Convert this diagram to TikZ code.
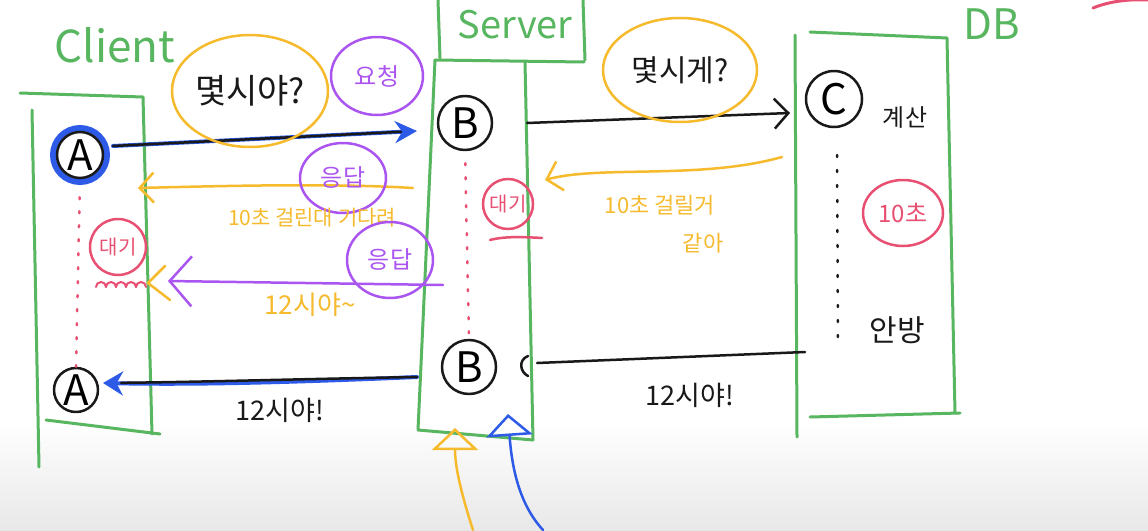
\documentclass[tikz,border=0pt]{standalone}
\usepackage{fontspec}
\setmainfont{Noto Sans CJK KR}
\usetikzlibrary{arrows.meta,shapes.geometric}
\definecolor{pengreen}{RGB}{88,182,96}
\definecolor{penblue}{RGB}{45,90,230}
\definecolor{penyellow}{RGB}{246,186,45}
\definecolor{penpurple}{RGB}{170,85,240}
\definecolor{penpink}{RGB}{232,80,115}
\definecolor{ink}{RGB}{25,25,25}
\begin{document}
\begin{tikzpicture}[line join=round, line cap=round, x=1pt, y=-1pt,
		frame/.style={draw=pengreen, line width=3pt},
		pen/.style={line width=2.5pt},
		txt/.style={inner sep=0pt, font=\fontsize{#1}{#1}\selectfont},
		ring/.style={circle, draw=ink, line width=2.5pt, inner sep=0pt, minimum size=#1, font=\fontsize{42}{42}\selectfont},
		bubble/.style={ellipse, draw=#1, line width=2.5pt, inner sep=0pt},
		chev/.style={-{Straight Barb[length=14pt, width=30pt]}}]
		\useasboundingbox (0,0) rectangle (1148,530);
		\fill[white] (0,0) rectangle (1148,530);
		\shade[top color=white, bottom color=black!9] (0,420) rectangle (1148,530);
		% boxes
		\draw[frame] (20,93) -- (143,97) -- (152,434);
		\draw[frame] (46,420) -- (160,434);
		\draw[frame] (32,110) -- (39,467);
		\draw[frame] (438,0) -- (440,58);
		\draw[frame] (583,0) -- (585,60);
		\draw[frame] (435,60) -- (584,62);
		\draw[frame] (435,60) -- (418,430) -- (533,440) -- (525,62);
		\draw[frame] (795,35) -- (797,437);
		\draw[frame] (810,32) -- (947,38) -- (955,413);
		\draw[frame] (810,417) -- (960,413);
		% titles
		\node[txt=44, text=pengreen] (client) at (115,45) {Client};
		\node[txt=38, text=pengreen] (server) at (515,25) {Server};
		\node[txt=42, text=pengreen] (db) at (992,24) {DB};
		\draw[penpink, line width=3pt] (1093,8) .. controls (1110,1) and (1130,-1) .. (1148,0);
		% lifelines
		\draw[penblue, line width=6pt] (80,155) circle [radius=27];
		\node[ring=46pt] (aTop) at (80,155) {A};
		\node[ring=44pt] (aBot) at (76,390) {A};
		\node[ring=54pt] (bTop) at (465,123) {B};
		\node[ring=54pt] (bBot) at (469,367) {B};
		\node[ring=56pt] (cTop) at (834,99) {C};
		\draw[penpink, pen, dash pattern=on 2pt off 12pt, shorten <=18pt] (aTop.south) -- (aBot.north);
		\draw[penpink, pen, dash pattern=on 2pt off 12pt, shorten <=12pt] (bTop.south) -- (bBot.north);
		\coordinate (dbDotTop) at (837,155);
		\coordinate (dbDotBot) at (838,340);
		\draw[ink, pen, dash pattern=on 2pt off 13pt] (dbDotTop) -- (dbDotBot);
		% waiting marks
		\node[circle, draw=penpink, pen, txt=20, text=penpink, minimum size=56pt] (waitA) at (118,247) {대기};
		\foreach \i in {0,...,4}
		\draw[penpink, line width=2pt] (96+\i*10,287) arc [start angle=180, end angle=360, radius=5];
		\node[circle, draw=penpink, pen, txt=20, text=penpink, minimum size=50pt] (waitB) at (508,204) {대기};
		\draw[penpink, pen] (490,240) .. controls (505,236) and (525,237) .. (542,238);
		% db
		\node[txt=24, text=ink] (calc) at (905,118) {계산};
		\node[ellipse, draw=penpink, pen, txt=24, text=penpink, minimum width=80pt, minimum height=66pt] (tenSec) at (903,213) {10초};
		\node[txt=30, text=ink] (done) at (897,330) {안방};
		% client -> server
		\coordinate (reqStart) at (113,146);
		\coordinate (reqEnd) at (417,131);
		\draw[penblue, line width=4pt, -{Stealth[length=22pt, width=22pt]}] (reqStart) -- (reqEnd);
		\draw[ink, line width=2.5pt, yshift=2pt, shorten >=16pt] (reqStart) -- (reqEnd);
		\node[bubble=penyellow, minimum width=156pt, minimum height=112pt, txt=34, text=ink] (qTime) at (250,91) {몇시야?};
		\node[bubble=penpurple, minimum width=92pt, minimum height=78pt, txt=24, text=penpurple] (req) at (377,76) {요청};
		% server -> client
		\coordinate (waitFrom) at (413,188);
		\coordinate (waitTo) at (138,188);
		\draw[penyellow, pen, chev] (waitFrom) .. controls (330,183) and (220,186) .. (waitTo);
		\node[bubble=penpurple, minimum width=86pt, minimum height=70pt, txt=24, text=penpurple] (resp1) at (343,178) {응답};
		\node[txt=21, text=penyellow] (waitMsg) at (312,218) {10초 걸린대 기다려};
		\coordinate (tellFrom) at (443,285);
		\coordinate (tellTo) at (168,281);
		\draw[penpurple, pen, -{Straight Barb[length=22pt, width=50pt]}] (tellFrom) -- (tellTo);
		\draw[penyellow, pen] (165,266) -- (148,283) -- (170,300);
		\node[bubble=penpurple, minimum width=86pt, minimum height=76pt, txt=24, text=penpurple] (resp2) at (390,260) {응답};
		\node[txt=26, text=penyellow] (nowMsg) at (310,305) {12시야\textasciitilde};
		\coordinate (ansFrom) at (417,377);
		\coordinate (ansTo) at (103,383);
		\draw[penblue, line width=4pt, -{Stealth[length=20pt, width=24pt]}] (ansFrom) .. controls (300,382) and (200,385) .. (ansTo);
		\draw[ink, line width=2.5pt, yshift=3pt, shorten >=18pt] (ansFrom) .. controls (300,382) and (200,385) .. (ansTo);
		\node[txt=27, text=ink] (ansMsg) at (280,410) {12시야!};
		% server <-> db
		\coordinate (askFrom) at (527,123);
		\coordinate (askTo) at (790,113);
		\draw[ink, pen, chev] (askFrom) -- (askTo);
		\node[bubble=penyellow, minimum width=154pt, minimum height=104pt, txt=30, text=ink] (qTime2) at (680,70) {몇시게?};
		\coordinate (slowFrom) at (782,157);
		\coordinate (slowTo) at (545,180);
		\draw[penyellow, pen, chev] (slowFrom) .. controls (700,180) and (600,165) .. (slowTo);
		\node[txt=22, text=penyellow] (slowMsg) at (660,205) {10초 걸릴거};
		\node[txt=22, text=penyellow] (slowMsg2) at (703,243) {같아};
		\coordinate (doneFrom) at (805,352);
		\coordinate (doneTo) at (537,363);
		\draw[ink, pen] (doneFrom) -- (doneTo);
		\draw[ink, pen] (528,356) .. controls (518,360) and (520,372) .. (528,376);
		\node[txt=27, text=ink] (doneMsg) at (690,395) {12시야!};
		% pointers at the server
		\coordinate (hintY) at (473,530);
		\coordinate (hintYTip) at (455,428);
		\draw[penyellow, pen, -{Triangle[open, length=22pt, width=46pt]}] (hintY) .. controls (460,490) and (455,465) .. (hintYTip);
		\coordinate (hintB) at (543,530);
		\coordinate (hintBTip) at (508,414);
		\draw[penblue, pen, -{Triangle[open, length=22pt, width=46pt]}] (hintB) .. controls (520,505) and (512,470) .. (hintBTip);
\end{tikzpicture}
\end{document}
